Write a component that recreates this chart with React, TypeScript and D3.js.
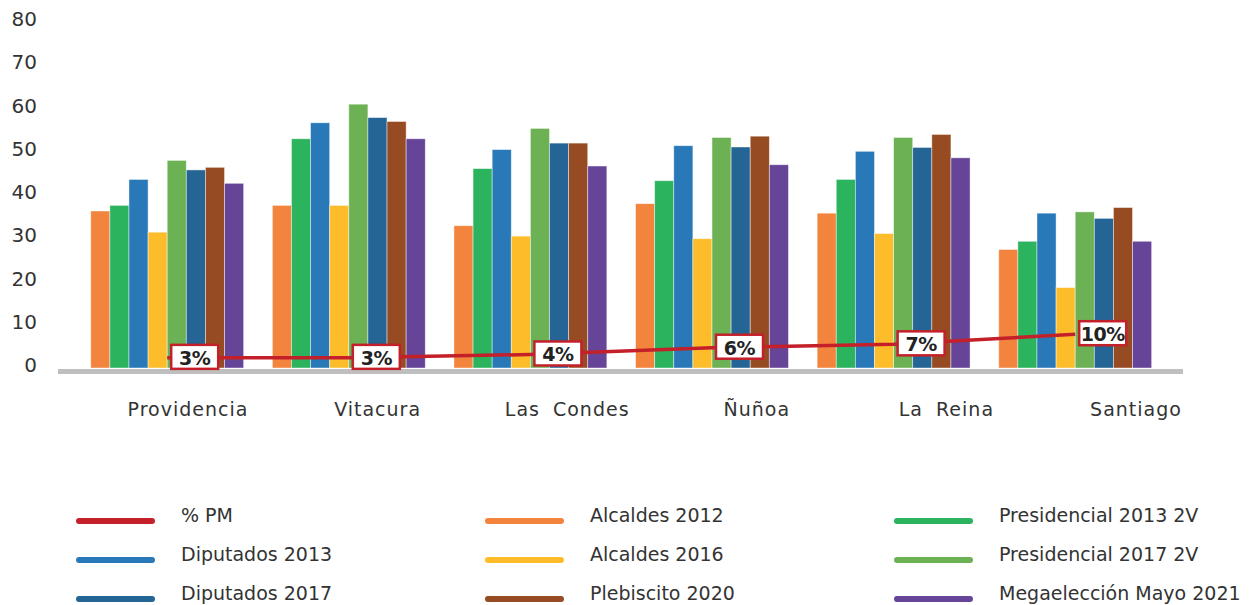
import { useEffect, useRef } from 'react';
import * as d3 from 'd3';

const categories = ['Providencia', 'Vitacura', 'Las Condes', 'Ñuñoa', 'La Reina', 'Santiago'];

const alcaldes2012 = [36.3, 37.6, 32.9, 38.0, 35.8, 27.4];
const presidencial2013 = [37.6, 53.0, 46.1, 43.3, 43.6, 29.3];
const diputados2013 = [43.6, 56.7, 50.5, 51.4, 50.1, 35.8];
const alcaldes2016 = [31.4, 37.6, 30.5, 29.9, 31.1, 18.6];
const presidencial2017 = [48.0, 61.0, 55.4, 53.3, 53.3, 36.1];
const diputados2017 = [45.8, 57.9, 52.0, 51.1, 51.0, 34.6];
const plebiscito2020 = [46.4, 57.0, 52.0, 53.6, 54.0, 37.1];
const megaeleccion2021 = [42.7, 53.0, 46.7, 47.0, 48.6, 29.3];

const pctPM = [3, 3, 4, 6, 7, 10];

const yTicks = [0, 10, 20, 30, 40, 50, 60, 70, 80];

interface Series {
  name: string;
  values: number[];
  color: string;
}

const barSeries: Series[] = [
  { name: 'Alcaldes 2012', values: alcaldes2012, color: '#f3843e' },
  { name: 'Presidencial 2013 2V', values: presidencial2013, color: '#2bb35e' },
  { name: 'Diputados 2013', values: diputados2013, color: '#2979b9' },
  { name: 'Alcaldes 2016', values: alcaldes2016, color: '#fdbd2b' },
  { name: 'Presidencial 2017 2V', values: presidencial2017, color: '#6db155' },
  { name: 'Diputados 2017', values: diputados2017, color: '#246595' },
  { name: 'Plebiscito 2020', values: plebiscito2020, color: '#974b22' },
  { name: 'Megaelección Mayo 2021', values: megaeleccion2021, color: '#664498' },
];

const lineColor = '#c4202a';

export default function App() {
  const svgRef = useRef<SVGSVGElement>(null);

  useEffect(() => {
    if (!svgRef.current) return;
    const width = 1253;
    const height = 605;
    const font = '"DejaVu Sans", sans-serif';

    const svg = d3.select(svgRef.current);
    svg.selectAll('*').remove();
    svg.attr('width', width).attr('height', height).attr('viewBox', `0 0 ${width} ${height}`);

    const y = d3.scaleLinear().domain([0, 80]).range([368, 22]);
    // secondary (hidden) axis for the % PM line
    const y2 = d3.scaleLinear().domain([0, 100]).range([368, 30]);

    const x0 = d3
      .scaleBand<string>()
      .domain(categories)
      .range([76.4, 1166])
      .paddingInner(0.158)
      .paddingOuter(0.079);

    const x1 = d3
      .scaleBand<string>()
      .domain(barSeries.map((s) => s.name))
      .range([0, x0.bandwidth()]);

    // labels sit slightly off the group centres in the original
    const xLabel = d3.scalePoint<string>().domain(categories).range([188, 1136]);

    // y tick labels
    svg
      .append('g')
      .selectAll('text')
      .data(yTicks)
      .enter()
      .append('text')
      .attr('x', 37)
      .attr('y', (d) => y(d) - 3)
      .attr('text-anchor', 'end')
      .attr('dominant-baseline', 'central')
      .style('font-family', font)
      .style('font-size', '20px')
      .style('fill', '#333')
      .text((d) => d);

    // bars
    const groups = svg
      .append('g')
      .selectAll('g')
      .data(categories)
      .enter()
      .append('g')
      .attr('transform', (d) => `translate(${x0(d)},0)`);

    groups
      .selectAll('rect')
      .data((_, i) => barSeries.map((s) => ({ s, v: s.values[i] })))
      .enter()
      .append('rect')
      .attr('x', (d) => x1(d.s.name)!)
      .attr('width', x1.bandwidth())
      .attr('y', (d) => y(d.v))
      .attr('height', (d) => y(0) - y(d.v))
      .attr('fill', (d) => d.s.color)
      .attr('stroke', 'rgba(255,255,255,0.55)')
      .attr('stroke-width', 0.8);

    // axis band
    svg
      .append('rect')
      .attr('x', 58)
      .attr('y', 369)
      .attr('width', 1125)
      .attr('height', 5)
      .attr('fill', '#bfbfbf');

    // category labels
    svg
      .append('g')
      .selectAll('text')
      .data(categories)
      .enter()
      .append('text')
      .attr('x', (d) => xLabel(d)!)
      .attr('y', 409)
      .attr('text-anchor', 'middle')
      .attr('dominant-baseline', 'central')
      .style('font-family', font)
      .style('font-size', '19px')
      .style('letter-spacing', '1px')
      .style('word-spacing', '6px')
      .style('fill', '#333')
      .text((d) => d);

    // % PM line
    const cx = (d: string) => x0(d)! + x0.bandwidth() / 2;
    const line = d3
      .line<number>()
      .x((_, i) => cx(categories[i]))
      .y((d) => y2(d));

    svg
      .append('path')
      .datum(pctPM)
      .attr('d', line)
      .attr('fill', 'none')
      .attr('stroke', lineColor)
      .attr('stroke-width', 3.5);

    const labels = svg
      .append('g')
      .selectAll('g')
      .data(pctPM)
      .enter()
      .append('g')
      .attr('transform', (d, i) => `translate(${cx(categories[i]) + 4},${y2(d) - 1})`);

    labels
      .append('rect')
      .attr('x', 0)
      .attr('y', -12)
      .attr('width', 47)
      .attr('height', 24)
      .attr('fill', '#fff')
      .attr('stroke', lineColor)
      .attr('stroke-width', 2.5);

    labels
      .append('text')
      .attr('x', 23.5)
      .attr('y', 1)
      .attr('text-anchor', 'middle')
      .attr('dominant-baseline', 'central')
      .style('font-family', font)
      .style('font-size', '19px')
      .style('font-weight', 'bold')
      .style('letter-spacing', '-0.5px')
      .style('fill', '#222')
      .text((d) => `${d}%`);

    // legend
    const legendItems = [{ name: '% PM', color: lineColor }, ...barSeries.map((s) => ({ name: s.name, color: s.color }))];
    const legend = svg
      .append('g')
      .selectAll('g')
      .data(legendItems)
      .enter()
      .append('g')
      .attr('transform', (_, i) => `translate(${76 + (i % 3) * 409},${521 + Math.floor(i / 3) * 39})`);

    legend
      .append('line')
      .attr('x1', 3)
      .attr('x2', 76)
      .attr('y1', 0)
      .attr('y2', 0)
      .attr('stroke', (d) => d.color)
      .attr('stroke-width', 6)
      .attr('stroke-linecap', 'round');

    legend
      .append('text')
      .attr('x', 105)
      .attr('y', -6)
      .attr('dominant-baseline', 'central')
      .style('font-family', font)
      .style('font-size', '19px')
      .style('fill', '#333')
      .text((d) => d.name);
  }, []);

  return (
    <div style={{ position: 'absolute', left: 0, top: 0 }}>
      <svg ref={svgRef} style={{ display: 'block' }} />
    </div>
  );
}
